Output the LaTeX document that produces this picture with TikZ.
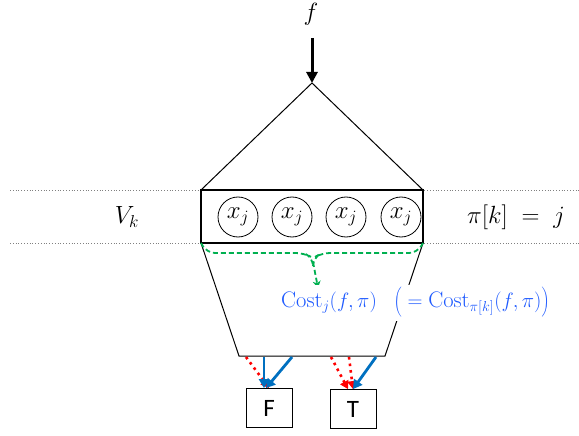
\documentclass[tikz,border=0pt]{standalone}
\usepackage{fontspec}
\newfontfamily\boxfont{Carlito}
\usetikzlibrary{arrows.meta}
\definecolor{arrblue}{RGB}{0,112,192}
\definecolor{txtblue}{RGB}{30,90,255}
\definecolor{brgreen}{RGB}{0,176,80}
\definecolor{dotred}{RGB}{255,0,0}
\tikzset{
  mathtxt/.style={font=\fontsize{25}{30}\selectfont, inner sep=0pt},
  costtxt/.style={font=\fontsize{22.5}{27}\selectfont, text=txtblue, fill=white, inner sep=2pt},
  cell/.style={draw, circle, minimum size=40pt, inner sep=0pt, line width=0.8pt, font=\fontsize{24}{28}\selectfont},
  leafbox/.style={draw, line width=0.8pt, minimum width=46pt, minimum height=39pt, inner sep=0pt, font=\boxfont\fontsize{25}{30}\selectfont},
  outline/.style={line width=1pt},
  guide/.style={gray, dotted, line width=0.8pt},
  bluearr/.style={arrblue, line width=2.8pt, -{Triangle[length=9pt,width=10pt]}},
  redarr/.style={dotred, line width=2.6pt, dash pattern=on 2.6pt off 4pt, -{Triangle[length=8pt,width=9pt]}},
  greendash/.style={brgreen, line width=1.8pt, dash pattern=on 5pt off 3pt},
}
\begin{document}
\begin{tikzpicture}[x=1pt,y=-1pt]
\useasboundingbox (0,0) rectangle (579,436);
% guide lines
\draw[guide] (10,190) -- (579,190);
\draw[guide] (10,243) -- (579,243);
% f and arrow
\node[mathtxt] (f) at (311,14) {$f$};
\coordinate (apex) at (312,83);
\coordinate (ftop) at (312,38);
\draw[line width=3pt, -{Triangle[length=11pt,width=11pt]}] (ftop) -- (apex);
% triangle
\coordinate (tl) at (201,190);
\coordinate (tr) at (423,190);
\coordinate (bl) at (201,243);
\coordinate (br) at (423,243);
\draw[outline] (tl) -- (apex) -- (tr);
% trapezoid
\coordinate (ql) at (239,356);
\coordinate (qr) at (385,356);
\draw[outline] (bl) -- (ql) -- (qr) -- (br);
% cells
\node[cell] (c1) at (238,217) {$x_j$};
\node[cell] (c2) at (292,217) {$x_j$};
\node[cell] (c3) at (346,217) {$x_j$};
\node[cell] (c4) at (401,217) {$x_j$};
\draw[line width=1.3pt] (tl) rectangle (br);
% labels
\node[mathtxt] (vk) at (127,217) {$V_k$};
\node[mathtxt] (pk) at (516,217) {$\pi[k]\;=\;j$};
% green brace
\coordinate (gm) at (313,262);
\coordinate (gt) at (318,288);
\draw[greendash, rounded corners=8pt]
  (bl) -- (207,253) -- (304,253) -- (313,258) -- (313,266);
\draw[greendash, rounded corners=8pt]
  (br) -- (417,253) -- (322,253) -- (313,258) -- (313,266);
\draw[greendash, -{Stealth[length=7pt,width=8pt]}] (gm) -- (gt);
% cost text
\node[costtxt, anchor=west] (cost) at (279,303)
  {$\mathrm{Cost}_j(f,\pi)\ \ \left(\rule[-11pt]{0pt}{31pt}=\mathrm{Cost}_{\pi[k]}(f,\pi)\right)$};
% leaves
\node[leafbox] (F) at (269,408) {F};
\node[leafbox] (T) at (353,409) {T};
% arrows
\coordinate (r1) at (246,357);
\coordinate (b1) at (264,357);
\coordinate (b2) at (292,357);
\coordinate (r2) at (331,357);
\coordinate (r3) at (349,357);
\coordinate (b3) at (376,357);
\draw[redarr] (r1) -- (F.north);
\draw[bluearr] (b1) -- (F.north -| b1);
\draw[bluearr] (b2) -- ([xshift=-3pt]F.north);
\draw[redarr] (r2) -- ([xshift=-5pt]T.north);
\draw[redarr] (r3) -- (T.north);
\draw[bluearr] (b3) -- (T.north);
\end{tikzpicture}
\end{document}
